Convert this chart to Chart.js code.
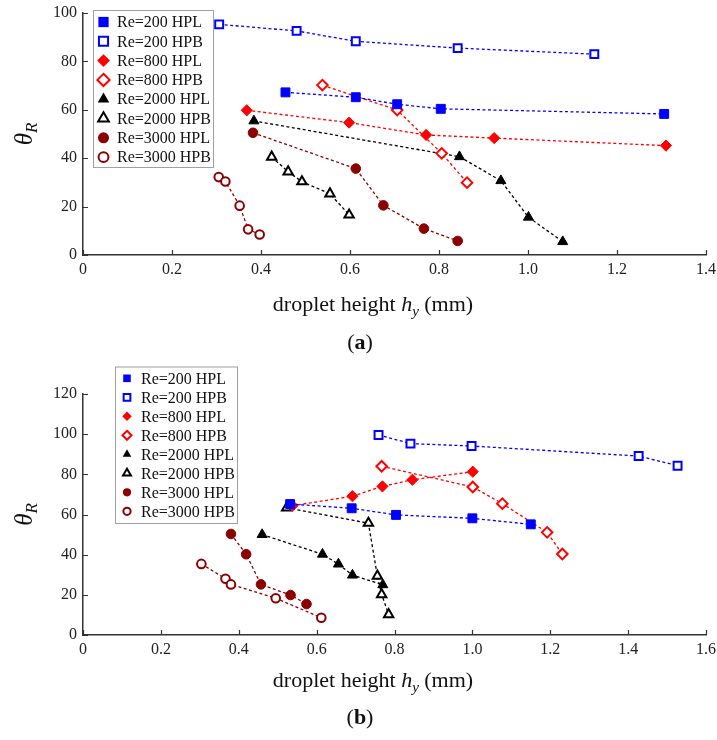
<!DOCTYPE html>
<html>
<head>
<meta charset="utf-8">
<script src="https://cdn.jsdelivr.net/npm/chart.js@4.4.1/dist/chart.umd.min.js"></script>
<style>
  html, body { margin: 0; padding: 0; background: #fff; }
  #wrap { position: relative; width: 717px; height: 740px; }
  .panel { position: absolute; left: 0; width: 717px; }
</style>
</head>
<body>
<div id="wrap">
  <div class="panel" style="top:0;height:360px"><canvas id="chartA" width="717" height="360"></canvas></div>
  <div class="panel" style="top:360px;height:380px"><canvas id="chartB" width="717" height="380"></canvas></div>
</div>
<script>
'use strict';

const seriesNames = ['Re=200 HPL', 'Re=200 HPB', 'Re=800 HPL', 'Re=800 HPB',
	'Re=2000 HPL', 'Re=2000 HPB', 'Re=3000 HPL', 'Re=3000 HPB'];

// (a) droplet height h_y (mm), theta_R
const a200HPL = [[0.455, 67.2], [0.613, 65.2], [0.706, 62.3], [0.804, 60.4], [1.306, 58.3]];
const a200HPB = [[0.306, 95.3], [0.480, 92.6], [0.613, 88.3], [0.842, 85.5], [1.149, 83.0]];
const a800HPL = [[0.368, 59.8], [0.598, 54.7], [0.771, 49.6], [0.924, 48.3], [1.310, 45.2]];
const a800HPB = [[0.538, 70.2], [0.706, 59.9], [0.806, 42.0], [0.863, 29.9]];
const a2000HPL = [[0.384, 55.4], [0.846, 40.6], [0.939, 30.7], [1.001, 15.6], [1.078, 5.5]];
const a2000HPB = [[0.424, 40.5], [0.461, 34.4], [0.492, 30.3], [0.555, 25.3], [0.598, 16.6]];
const a3000HPL = [[0.382, 50.5], [0.613, 35.7], [0.675, 20.5], [0.766, 10.9], [0.842, 5.8]];
const a3000HPB = [[0.305, 32.2], [0.320, 30.4], [0.352, 20.4], [0.371, 10.6], [0.397, 8.5]];

// (b)
const b200HPL = [[0.532, 65.2], [0.690, 63.1], [0.804, 59.8], [1.000, 58.1], [1.150, 55.1]];
const b200HPB = [[0.759, 99.6], [0.841, 95.3], [0.998, 94.1], [1.427, 89.1], [1.527, 84.3]];
const b800HPL = [[0.538, 64.4], [0.692, 69.1], [0.769, 74.0], [0.846, 77.3], [1.001, 81.3]];
const b800HPB = [[0.767, 84.0], [1.001, 73.7], [1.077, 65.4], [1.192, 51.1], [1.231, 40.3]];
const b2000HPL = [[0.460, 50.0], [0.615, 40.2], [0.656, 35.3], [0.692, 29.8], [0.770, 25.0]];
const b2000HPB = [[0.523, 63.3], [0.733, 55.7], [0.756, 29.4], [0.767, 20.2], [0.785, 10.2]];
const b3000HPL = [[0.380, 50.3], [0.419, 40.2], [0.457, 25.2], [0.533, 19.9], [0.574, 15.4]];
const b3000HPB = [[0.304, 35.4], [0.366, 28.0], [0.380, 25.2], [0.495, 18.3], [0.612, 8.6]];

const xTicksA = [0, 0.2, 0.4, 0.6, 0.8, 1.0, 1.2, 1.4];
const yTicksA = [0, 20, 40, 60, 80, 100];
const xTicksB = [0, 0.2, 0.4, 0.6, 0.8, 1.0, 1.2, 1.4, 1.6];
const yTicksB = [0, 20, 40, 60, 80, 100, 120];

const BLUE = '#0000ff';
const RED = '#ff0000';
const BLACK = '#000000';
const DARKRED = '#8b0000';

// colour, point style, filled?, radius
const styles = [
	[BLUE, 'rect', true, 6.3],
	[BLUE, 'rect', false, 5.6],
	[RED, 'rectRot', true, 5.6],
	[RED, 'rectRot', false, 5.3],
	[BLACK, 'triangle', true, 5.8],
	[BLACK, 'triangle', false, 5.4],
	[DARKRED, 'circle', true, 4.8],
	[DARKRED, 'circle', false, 4.3],
];

const SERIF = '"Liberation Serif", "Times New Roman", serif';

const toPoints = function (arr) {
	return arr.map(function (p) { return { x: p[0], y: p[1] }; });
};

const makeDatasets = function (seriesList) {
	return seriesList.map(function (arr, i) {
		const st = styles[i];
		return {
			label: seriesNames[i],
			data: toPoints(arr),
			showLine: true,
			borderColor: st[0],
			borderWidth: 1.3,
			borderDash: [3, 2.5],
			pointStyle: st[1],
			pointRadius: st[3],
			pointHoverRadius: st[3],
			pointBackgroundColor: st[2] ? st[0] : '#ffffff',
			pointBorderColor: st[0],
			pointBorderWidth: st[2] ? 1 : 2,
		};
	});
};

// legend marker (own drawing, only for the legend box)
const drawMarker = function (ctx, style, x, y, r, color, filled) {
	ctx.save();
	ctx.beginPath();
	if (style === 'rect') {
		const s = r * Math.SQRT1_2;
		ctx.rect(x - s, y - s, 2 * s, 2 * s);
	} else if (style === 'rectRot') {
		ctx.moveTo(x, y - r);
		ctx.lineTo(x + r, y);
		ctx.lineTo(x, y + r);
		ctx.lineTo(x - r, y);
		ctx.closePath();
	} else if (style === 'triangle') {
		const h = r * Math.sqrt(3) / 2;
		ctx.moveTo(x, y - r);
		ctx.lineTo(x + h, y + r / 2);
		ctx.lineTo(x - h, y + r / 2);
		ctx.closePath();
	} else {
		ctx.arc(x, y, r, 0, Math.PI * 2);
	}
	if (filled) {
		ctx.fillStyle = color;
		ctx.fill();
	} else {
		ctx.fillStyle = '#fff';
		ctx.fill();
		ctx.lineWidth = 2;
		ctx.strokeStyle = color;
		ctx.stroke();
	}
	ctx.restore();
};

const decorPlugin = {
	id: 'decor',
	afterDraw: function (chart, args, opts) {
		const ctx = chart.ctx;
		const area = chart.chartArea;
		const xs = chart.scales.x;
		const ys = chart.scales.y;

		// inward tick marks
		ctx.save();
		ctx.strokeStyle = '#333';
		ctx.lineWidth = 1.2;
		ctx.beginPath();
		xs.ticks.forEach(function (t) {
			const px = Math.round(xs.getPixelForValue(t.value)) + 0.5;
			ctx.moveTo(px, area.bottom);
			ctx.lineTo(px, area.bottom - 5);
		});
		ys.ticks.forEach(function (t) {
			const py = Math.round(ys.getPixelForValue(t.value)) + 0.5;
			ctx.moveTo(area.left, py);
			ctx.lineTo(area.left + 5, py);
		});
		ctx.stroke();
		ctx.restore();

		// x axis title: droplet height h_y (mm)
		ctx.save();
		ctx.fillStyle = '#111';
		ctx.textBaseline = 'alphabetic';
		ctx.textAlign = 'left';
		const parts = [
			['droplet height ', '22px ' + SERIF, 0],
			['h', 'italic 22px ' + SERIF, 0],
			['y', 'italic 15px ' + SERIF, 5],
			[' (mm)', '22px ' + SERIF, 0],
		];
		let total = 0;
		parts.forEach(function (p) { ctx.font = p[1]; total += ctx.measureText(p[0]).width; });
		let cx = opts.xTitleX - total / 2;
		parts.forEach(function (p) {
			ctx.font = p[1];
			ctx.fillText(p[0], cx, opts.xTitleY + p[2]);
			cx += ctx.measureText(p[0]).width;
		});

		// caption (a) / (b)
		const cap = [
			['(', '22px ' + SERIF],
			[opts.caption, 'bold 22px ' + SERIF],
			[')', '22px ' + SERIF],
		];
		total = 0;
		cap.forEach(function (p) { ctx.font = p[1]; total += ctx.measureText(p[0]).width; });
		cx = opts.capX - total / 2;
		cap.forEach(function (p) {
			ctx.font = p[1];
			ctx.fillText(p[0], cx, opts.capY);
			cx += ctx.measureText(p[0]).width;
		});
		ctx.restore();

		// y axis title theta_R, rotated
		ctx.save();
		ctx.translate(opts.yTitleX, (area.top + area.bottom) / 2);
		ctx.rotate(-Math.PI / 2);
		ctx.fillStyle = '#111';
		ctx.font = 'italic 25px ' + SERIF;
		const wT = ctx.measureText('\u03b8').width;
		ctx.font = 'italic 17px ' + SERIF;
		const wR = ctx.measureText('R').width;
		const x0 = -(wT + wR) / 2;
		ctx.font = 'italic 25px ' + SERIF;
		ctx.fillText('\u03b8', x0, 6);
		ctx.font = 'italic 17px ' + SERIF;
		ctx.fillText('R', x0 + wT, 11);
		ctx.restore();

		// legend box
		const lg = opts.legend;
		ctx.save();
		ctx.fillStyle = '#fff';
		ctx.fillRect(lg.left, lg.top, lg.right - lg.left, lg.bottom - lg.top);
		ctx.strokeStyle = '#a0a0a0';
		ctx.lineWidth = 1;
		ctx.strokeRect(lg.left + 0.5, lg.top + 0.5, lg.right - lg.left, lg.bottom - lg.top);
		ctx.font = '16px ' + SERIF;
		ctx.fillStyle = '#111';
		ctx.textBaseline = 'middle';
		chart.data.datasets.forEach(function (ds, i) {
			const st = styles[i];
			const y = lg.firstY + i * lg.step;
			drawMarker(ctx, st[1], lg.markerX, y, st[3] * lg.markerScale, st[0], st[2]);
			ctx.fillText(ds.label, lg.textX, y + 1);
		});
		ctx.restore();
	},
};

const makeScales = function (xMax, yMax, xHeight) {
	const fmtX = function (v) { return v === 0 ? '0' : v.toFixed(1); };
	return {
		x: {
			type: 'linear',
			min: 0,
			max: xMax,
			afterBuildTicks: function (s) {
				const list = xMax > 1.5 ? xTicksB : xTicksA;
				s.ticks = list.map(function (v) { return { value: v }; });
			},
			ticks: {
				callback: fmtX,
				font: { family: SERIF, size: 16 },
				color: '#222',
				padding: 5,
				maxRotation: 0,
				autoSkip: false,
			},
			grid: { display: false, drawTicks: false },
			border: { display: true, color: '#333', width: 1.5 },
			afterFit: function (s) {
				s.height = xHeight;
				s.paddingLeft = 0;
				s.paddingRight = 0;
			},
		},
		y: {
			type: 'linear',
			min: 0,
			max: yMax,
			afterBuildTicks: function (s) {
				const list = yMax > 100 ? yTicksB : yTicksA;
				s.ticks = list.map(function (v) { return { value: v }; });
			},
			ticks: {
				font: { family: SERIF, size: 16 },
				color: '#222',
				padding: 6,
				autoSkip: false,
			},
			grid: { display: false, drawTicks: false },
			border: { display: true, color: '#333', width: 1.5 },
			afterFit: function (s) {
				s.width = 83;
				s.paddingTop = 0;
				s.paddingBottom = 0;
			},
		},
	};
};

const createChartA = function () {
	const ctx = document.getElementById('chartA');
	new Chart(ctx, {
		type: 'scatter',
		data: {
			datasets: makeDatasets([a200HPL, a200HPB, a800HPL, a800HPB, a2000HPL, a2000HPB, a3000HPL, a3000HPB]),
		},
		options: {
			responsive: false,
			animation: false,
			layout: { padding: { left: 0, right: 11, top: 13, bottom: 0 } },
			scales: makeScales(1.4, 100, 105),
			plugins: {
				legend: { display: false },
				tooltip: { enabled: false },
				decor: {
					xTitleX: 373, xTitleY: 311,
					capX: 360, capY: 349,
					yTitleX: 26,
					caption: 'a',
					legend: {
						left: 93, top: 10, right: 213, bottom: 167,
						firstY: 22, step: 19.3, markerX: 103.5, textX: 117, markerScale: 1.15,
					},
				},
			},
		},
		plugins: [decorPlugin],
	});
};

const createChartB = function () {
	const ctx = document.getElementById('chartB');
	new Chart(ctx, {
		type: 'scatter',
		data: {
			datasets: makeDatasets([b200HPL, b200HPB, b800HPL, b800HPB, b2000HPL, b2000HPB, b3000HPL, b3000HPB]),
		},
		options: {
			responsive: false,
			animation: false,
			layout: { padding: { left: 0, right: 11, top: 34, bottom: 0 } },
			scales: makeScales(1.6, 120, 105),
			plugins: {
				legend: { display: false },
				tooltip: { enabled: false },
				decor: {
					xTitleX: 373, xTitleY: 326.5,
					capX: 360, capY: 364,
					yTitleX: 26,
					caption: 'b',
					legend: {
						left: 115, top: 6.5, right: 237, bottom: 163,
						firstY: 18.3, step: 19, markerX: 127, textX: 141, markerScale: 0.85,
					},
				},
			},
		},
		plugins: [decorPlugin],
	});
};

document.addEventListener('DOMContentLoaded', function () {
	createChartA();
	createChartB();
});
</script>
</body>
</html>
